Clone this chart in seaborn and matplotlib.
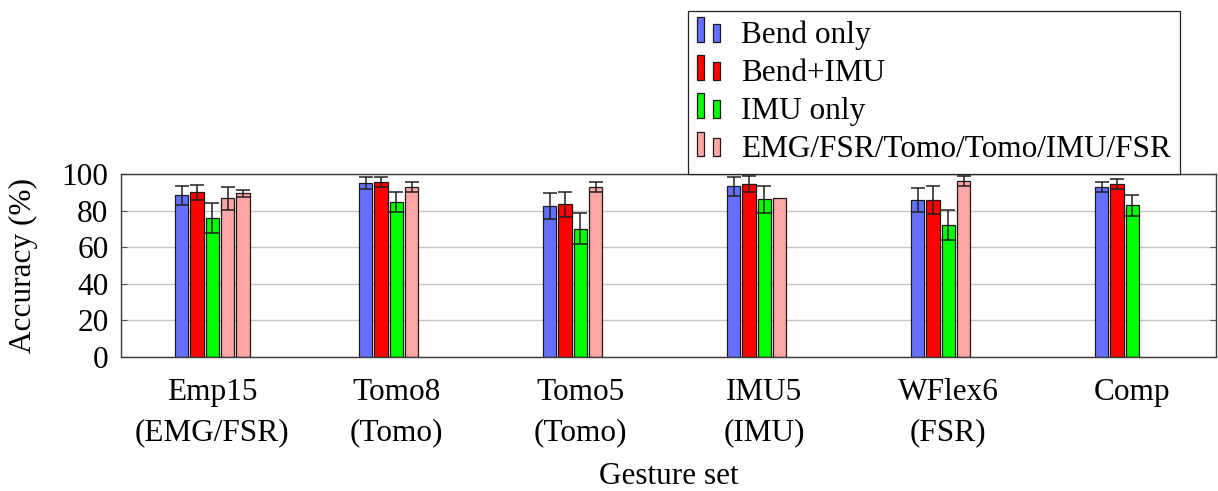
import numpy as np
import pandas as pd
import matplotlib
matplotlib.use("Agg")
import matplotlib.pyplot as plt
from matplotlib.patches import Rectangle, Patch
from matplotlib.legend_handler import HandlerBase
import seaborn as sns

# values (accuracy in %, error = +/- std)
gesture_sets = ["Emp15\n(EMG/FSR)", "Tomo8\n(Tomo)", "Tomo5\n(Tomo)",
                "IMU5\n(IMU)", "WFlex6\n(FSR)", "Comp"]

bend_only = [88.3, 95.1, 82.7, 93.2, 85.6, 92.9]
bend_only_err = [5.3, 3.5, 7.1, 5.3, 6.6, 2.9]

bend_imu = [90.0, 95.8, 83.4, 94.3, 85.9, 94.3]
bend_imu_err = [4.0, 2.7, 6.9, 4.4, 7.6, 2.7]

imu_only = [75.9, 84.7, 70.1, 86.1, 72.3, 82.8]
imu_only_err = [8.2, 5.7, 8.5, 7.5, 8.3, 5.8]

# published baselines (EMG/FSR/Tomo/Tomo/IMU/FSR); Emp15 has a second (FSR) one
baseline = [86.7, 93.1, 92.9, 87.0, 96.4, np.nan]
baseline_err = [6.2, 2.8, 2.9, np.nan, 2.7, np.nan]
baseline_fsr = [89.4, np.nan, np.nan, np.nan, np.nan, np.nan]
baseline_fsr_err = [2.1, np.nan, np.nan, np.nan, np.nan, np.nan]

series_names = ["Bend only", "Bend+IMU", "IMU only",
                "EMG/FSR/Tomo/Tomo/IMU/FSR", "Baseline 2"]
series_vals = [bend_only, bend_imu, imu_only, baseline, baseline_fsr]
series_errs = [bend_only_err, bend_imu_err, imu_only_err, baseline_err, baseline_fsr_err]
colors = ["#6670ff", "#ff0000", "#00ff00", "#ffa6a6", "#ffa6a6"]

rows = []
for name, vals, errs in zip(series_names, series_vals, series_errs):
    for g, v, e in zip(gesture_sets, vals, errs):
        rows.append({"gesture": g, "series": name, "acc": v, "err": e})
df = pd.DataFrame(rows).dropna(subset=["acc"])

sns.set_style("white")
plt.rcParams["font.family"] = ["Liberation Serif", "DejaVu Serif"]
plt.rcParams["text.color"] = "black"
plt.rcParams["axes.labelcolor"] = "black"
FS = 22.5

fig = plt.figure(figsize=(12.18, 4.91), dpi=100)
ax = fig.add_axes([121 / 1218, 1 - 357 / 491, (1216 - 121) / 1218, (357 - 174) / 491])

group_w = 0.418
sns.barplot(data=df, x="gesture", y="acc", hue="series", order=gesture_sets,
            hue_order=series_names, palette=colors, width=group_w, gap=0.136,
            errorbar=None, legend=False, edgecolor="#1a1a1a", linewidth=0.9,
            saturation=1, ax=ax)

# error bars, placed on the bars seaborn drew
slot = group_w / len(series_names)
for p in ax.patches:
    cx = p.get_x() + p.get_width() / 2
    h = p.get_height()
    if not np.isfinite(h) or h <= 0:
        continue
    cat = int(round(cx))
    k = int(round((cx - cat) / slot + (len(series_names) - 1) / 2))
    e = series_errs[k][cat]
    if np.isfinite(e):
        ax.errorbar(cx, h, yerr=e, fmt="none", ecolor="#202020", elinewidth=1.1,
                    capsize=5, capthick=1.1, zorder=5)

ax.set_xlim(-0.496, 5.455)
ax.set_ylim(0, 100)
ax.set_yticks([0, 20, 40, 60, 80, 100])
ax.yaxis.grid(True, color="#c4c4c4", linewidth=1.0)
ax.set_axisbelow(True)
for s in ax.spines.values():
    s.set_color("#3a3a3a")
    s.set_linewidth(1.0)

ax.tick_params(axis="y", direction="in", length=4, width=0.8, color="#555555",
               left=True, right=True, labelsize=FS, labelcolor="black", pad=9)
ax.tick_params(axis="x", length=0, labelsize=FS, labelcolor="black", pad=15)
for t in ax.get_xticklabels():
    t.set_linespacing(1.52)

ax.set_xlabel("Gesture set", fontsize=FS)
ax.set_ylabel("Accuracy (%)", fontsize=FS)
ax.xaxis.set_label_coords(0.5, -0.575)
ax.yaxis.set_label_coords(-0.0757, 0.5)


class TwoBarHandler(HandlerBase):
    # pgfplots-style ybar legend image: a tall bar and a shorter bar
    def create_artists(self, legend, orig_handle, xdescent, ydescent,
                       width, height, fontsize, trans):
        fc = orig_handle.get_facecolor()
        x0, y0 = -xdescent, -ydescent + 2
        bw = width * 0.3
        r1 = Rectangle((x0, y0), bw, height, facecolor=fc,
                       edgecolor="#1a1a1a", linewidth=0.9, transform=trans)
        r2 = Rectangle((x0 + width * 0.67, y0), bw, height * 0.73, facecolor=fc,
                       edgecolor="#1a1a1a", linewidth=0.9, transform=trans)
        return [r1, r2]


handles = [Patch(facecolor=c) for c in colors[:4]]
leg = fig.legend(handles, series_names[:4], loc="upper left",
                 bbox_to_anchor=(688 / 1218, 1 - 11 / 491), borderaxespad=0,
                 fontsize=FS, frameon=True, fancybox=False, framealpha=1,
                 edgecolor="#222222", handlelength=0.75, handleheight=0.83,
                 handletextpad=0.67, borderpad=0.29, labelspacing=0.256,
                 handler_map={Patch: TwoBarHandler()})
leg.get_frame().set_linewidth(0.9)

fig.savefig("out.png", dpi=100)
